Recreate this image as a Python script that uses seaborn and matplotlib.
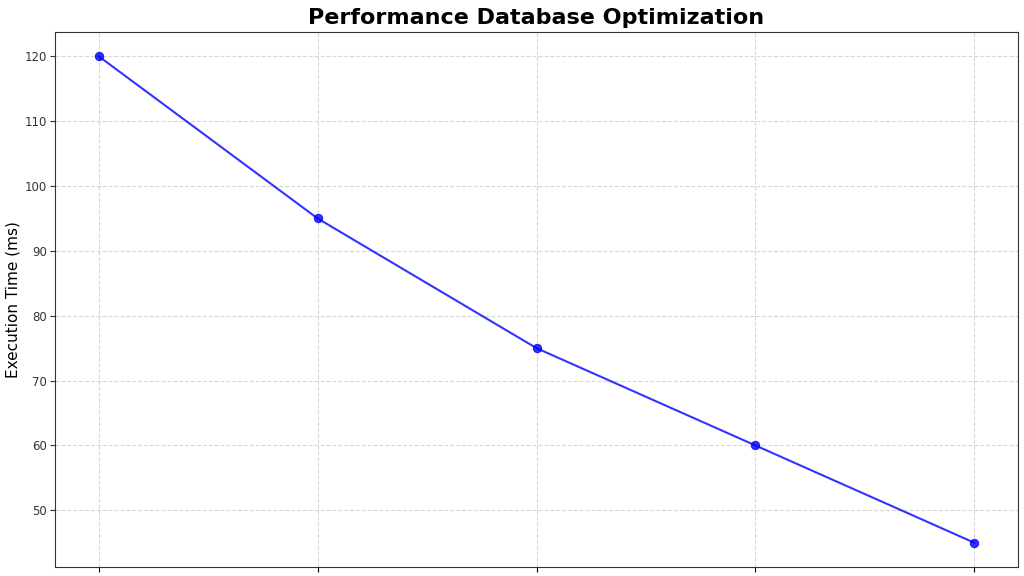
import matplotlib
matplotlib.use("Agg")
import matplotlib.pyplot as plt
import seaborn as sns
import pandas as pd

# optimisation stages (labels fall below the visible canvas in the reference)
stages = ["Stage 1", "Stage 2", "Stage 3", "Stage 4", "Stage 5"]
exec_time = [120, 95, 75, 60, 45]

df = pd.DataFrame({"Stage": stages, "Execution Time (ms)": exec_time})

plt.rcParams['font.family'] = ['DejaVu Sans']
fig = plt.figure(figsize=(10.24, 5.76), dpi=100)
ax = fig.add_axes([55 / 1024, 9 / 576, (1018 - 55) / 1024, (567 - 32) / 576])

sns.lineplot(data=df, x="Stage", y="Execution Time (ms)", ax=ax, sort=False,
             marker="o", color="blue", markersize=6, linewidth=1.5, alpha=0.8,
             markeredgecolor="blue")

ax.set_title("Performance Database Optimization", fontsize=16, fontweight="bold", pad=6)
ax.set_ylabel("Execution Time (ms)", fontsize=11, labelpad=3)
ax.set_xlabel("")
ax.set_xticks(range(len(stages)))
ax.set_xticklabels([""] * len(stages))
ax.grid(True, linestyle="--", alpha=0.5)
ax.tick_params(axis="y", labelsize=8.5, colors="#333333", pad=2.5)
for s in ax.spines.values():
    s.set_color("#333333")

fig.savefig("out.png", dpi=100)
